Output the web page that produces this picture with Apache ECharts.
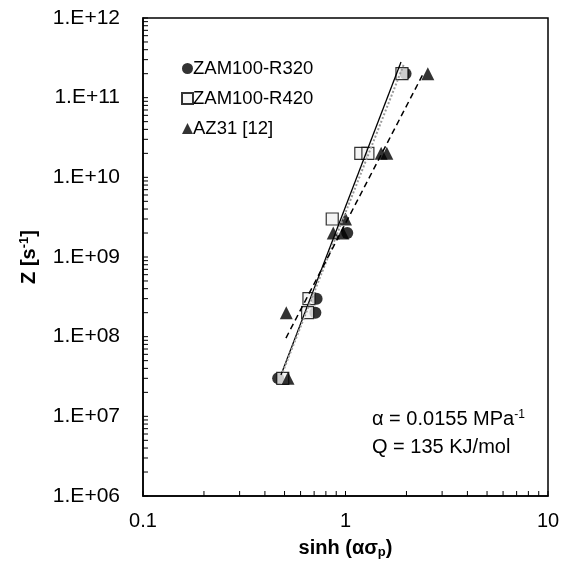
<!DOCTYPE html>
<html>
<head>
<meta charset="utf-8">
<script src="https://cdn.jsdelivr.net/npm/echarts@6/dist/echarts.min.js"></script>
<style>
  html, body { margin: 0; padding: 0; background: #fff; }
  #chart { width: 567px; height: 562px; }
</style>
</head>
<body>
<div id="chart"></div>
<script>
// measured points, [sinh(alpha*sigma_p), Z]
const zam320 = [[0.465, 3e7], [0.71, 2e8], [0.72, 3e8], [1.02, 2e9], [1.98, 2e11]]
const zam420 = [[0.49, 3e7], [0.65, 2e8], [0.66, 3e8], [0.86, 3e9], [1.19, 2e10], [1.29, 2e10], [1.90, 2e11]]
const az31 = [[0.52, 3e7], [0.51, 2e8], [0.87, 2e9], [0.97, 2e9], [1.0, 3e9], [1.50, 2e10], [1.60, 2e10], [2.55, 2e11]]

// fitted lines, end points
const fit320 = [[0.48, 3.3e7], [1.88, 2.8e11]]
const fit420 = [[0.49, 3.6e7], [1.95, 2.7e11]]
const fitAz31 = [[0.508, 9.6e7], [2.42, 2.0e11]]

const seriesNames = ['ZAM100-R320', 'ZAM100-R420', 'AZ31 [12]']

// log ticks 1..9 per decade
const logTicks = (lo, hi) => {
  const out = []
  for (let k = lo; k < hi; k++) {
    for (let m = 1; m <= 9; m++) out.push(+(m * Math.pow(10, k)).toPrecision(3))
  }
  out.push(Math.pow(10, hi))
  return out
}
const xMin = 0.1, yMin = 1e6
const xTickVals = logTicks(-1, 1)
const yTickVals = logTicks(6, 12)

const font = "'Liberation Sans', Arial, sans-serif"

const textGraphics = [
  {
    type: 'text', left: 372, top: 409,
    style: {
      text: 'α = 0.0155 MPa{sup|-1}',
      font: '20px ' + font, fill: '#000',
      rich: { sup: { fontSize: 12, fontFamily: font, fill: '#000', verticalAlign: 'top', padding: [0, 0, 9, 0] } }
    }
  },
  {
    type: 'text', left: 372, top: 437,
    style: { text: 'Q = 135 KJ/mol', font: '20px ' + font, fill: '#000' }
  }
]

const option = {
  animation: false,
  backgroundColor: '#fff',
  grid: {
    left: 143, right: 19, top: 18, bottom: 66,
    containLabel: false,
    outerBoundsMode: 'none',
    show: true,
    borderColor: '#000',
    borderWidth: 1.5
  },
  legend: {
    data: seriesNames,
    orient: 'vertical',
    left: 176,
    top: 54,
    itemWidth: 11,
    itemHeight: 11,
    itemGap: 11,
    textStyle: { fontFamily: font, fontSize: 18.5, color: '#000', padding: [0, 0, 0, -5] }
  },
  xAxis: {
    type: 'log',
    logBase: 10,
    min: 0.1,
    max: 10,
    name: 'sinh (ασ{sub|p})',
    nameLocation: 'middle',
    nameGap: 41,
    nameTextStyle: {
      fontFamily: font, fontSize: 20, fontWeight: 'bold', color: '#000',
      rich: { sub: { fontFamily: font, fontSize: 13, fontWeight: 'bold', verticalAlign: 'bottom', padding: [9, 0, 0, 0] } }
    },
    axisLine: { lineStyle: { color: '#000', width: 1.5 } },
    axisTick: { show: false },
    axisLabel: {
      fontFamily: font, fontSize: 20, color: '#000', margin: 15,
      formatter: v => String(v)
    },
    splitLine: { show: false }
  },
  yAxis: {
    type: 'log',
    logBase: 10,
    min: 1e6,
    max: 1e12,
    name: 'Z [s{sup|-1}]',
    nameLocation: 'middle',
    nameGap: 103,
    nameRotate: 90,
    nameTextStyle: {
      fontFamily: font, fontSize: 20, fontWeight: 'bold', color: '#000',
      rich: { sup: { fontFamily: font, fontSize: 13, fontWeight: 'bold', verticalAlign: 'top', padding: [0, 0, 9, 0] } }
    },
    axisLine: { lineStyle: { color: '#000', width: 1.5 } },
    axisTick: { show: false },
    axisLabel: {
      fontFamily: font, fontSize: 21, color: '#000', margin: 23,
      formatter: v => '1.E+' + String(Math.round(Math.log10(v))).padStart(2, '0')
    },
    splitLine: { show: false }
  },
  graphic: textGraphics,
  series: [
    {
      type: 'line', data: fit320, symbol: 'none', silent: true,
      lineStyle: { color: '#000', width: 1.3 }
    },
    {
      type: 'line', data: fit420, symbol: 'none', silent: true,
      lineStyle: { color: '#9a9a9a', width: 2, type: [2, 2] }
    },
    {
      type: 'line', data: fitAz31, symbol: 'none', silent: true,
      lineStyle: { color: '#000', width: 1.5, type: [6, 4] }
    },
    {
      name: seriesNames[0], type: 'scatter', data: zam320,
      symbol: 'circle', symbolSize: 12,
      itemStyle: { color: '#000' }
    },
    {
      name: seriesNames[1], type: 'scatter', data: zam420,
      symbol: 'rect', symbolSize: 12,
      itemStyle: { color: '#f2f2f2', borderColor: '#000', borderWidth: 1.2 }
    },
    {
      name: seriesNames[2], type: 'scatter', data: az31,
      symbol: 'triangle', symbolSize: 13,
      itemStyle: { color: '#000' }
    }
  ]
}

const myChart = echarts.init(document.getElementById('chart'))
myChart.setOption(option)

// inside log ticks, positioned with the chart's own axis scales
const drawTicks = () => {
  const ticks = []
  xTickVals.forEach(v => {
    const p = myChart.convertToPixel({ gridIndex: 0 }, [v, yMin])
    ticks.push({ type: 'line', silent: true, z: 10,
      shape: { x1: p[0], y1: p[1], x2: p[0], y2: p[1] - 5 },
      style: { stroke: '#000', lineWidth: 1 } })
  })
  yTickVals.forEach(v => {
    const p = myChart.convertToPixel({ gridIndex: 0 }, [xMin, v])
    ticks.push({ type: 'line', silent: true, z: 10,
      shape: { x1: p[0], y1: p[1], x2: p[0] + 5, y2: p[1] },
      style: { stroke: '#000', lineWidth: 1 } })
  })
  myChart.setOption({ graphic: textGraphics.concat(ticks) }, { replaceMerge: ['graphic'] })
}
drawTicks()

window.addEventListener('resize', () => {
  myChart.resize()
  drawTicks()
})
</script>
</body>
</html>
